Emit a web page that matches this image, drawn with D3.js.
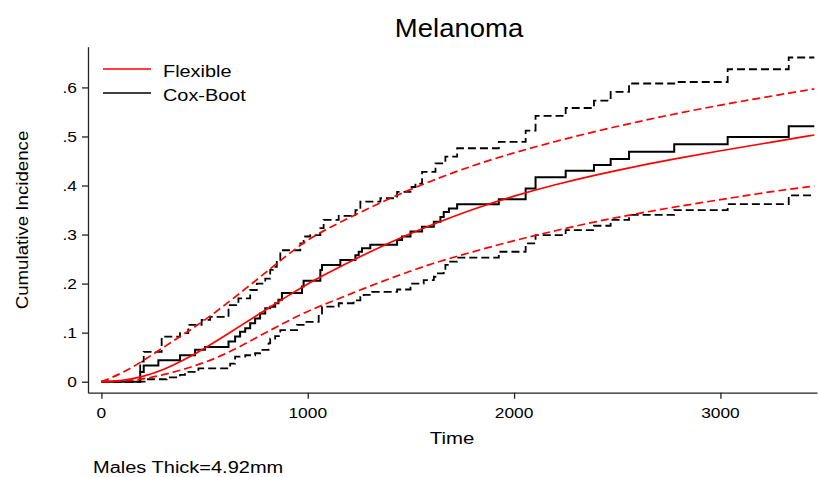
<!DOCTYPE html>
<html><head><meta charset="utf-8">
<script src="https://cdn.jsdelivr.net/npm/d3@7"></script>
<style>
html,body{margin:0;padding:0;background:#fff;}
svg{display:block;}
text{font-family:"Liberation Sans",Arial,Helvetica,sans-serif;fill:#000;}
</style></head>
<body>
<svg id="chart" width="818" height="477"></svg>
<script>
// ---- Data ----
const titleText = "Melanoma";
const xLabel = "Time";
const yLabel = "Cumulative Incidence";
const noteText = "Males Thick=4.92mm";
const legendLabels = ["Flexible", "Cox-Boot"];
const xTicks = [0, 1000, 2000, 3000];
const xTickLabels = ["0", "1000", "2000", "3000"];
const yTicks = [0, 0.1, 0.2, 0.3, 0.4, 0.5, 0.6];
const yTickLabels = ["0", ".1", ".2", ".3", ".4", ".5", ".6"];

// Flexible parametric model (smooth) with confidence limits
const flexTime  = [0,100,200,300,400,500,600,700,800,900,1000,1100,1200,1400,1600,1800,2000,2200,2400,2600,2800,3000,3200,3455];
const flexEst   = [0,0.002,0.010,0.024,0.044,0.068,0.094,0.121,0.148,0.174,0.200,0.222,0.244,0.285,0.320,0.352,0.379,0.402,0.422,0.440,0.456,0.471,0.485,0.503];
const flexUpper = [0,0.017,0.042,0.070,0.097,0.125,0.157,0.190,0.224,0.258,0.290,0.313,0.334,0.375,0.410,0.441,0.467,0.490,0.511,0.530,0.548,0.564,0.579,0.597];
const flexLower = [0,0.001,0.005,0.014,0.025,0.039,0.056,0.078,0.101,0.123,0.144,0.161,0.178,0.211,0.241,0.265,0.288,0.308,0.327,0.343,0.358,0.371,0.385,0.399];

// Cox model with bootstrap confidence limits (step functions)
const coxTime  = [0,188,205,219,276,292,316,381,405,421,454,470,486,502,527,616,624,648,664,672,697,721,745,753,769,794,810,818,842,850,858,867,875,948,964,972,980,1012,1053,1061,1069,1077,1150,1158,1222,1231,1247,1255,1263,1271,1303,1312,1352,1433,1457,1498,1506,1522,1554,1562,1611,1619,1643,1659,1667,1684,1724,1926,2056,2104,2250,2387,2468,2557,2776,3035,3331,3455];
const coxEst   = [0,0.020,0.033,0.033,0.044,0.044,0.044,0.054,0.054,0.054,0.065,0.065,0.065,0.071,0.071,0.082,0.082,0.092,0.092,0.102,0.109,0.119,0.129,0.129,0.139,0.150,0.150,0.153,0.160,0.160,0.167,0.167,0.181,0.181,0.181,0.194,0.206,0.206,0.206,0.228,0.238,0.238,0.238,0.248,0.248,0.258,0.265,0.265,0.272,0.272,0.279,0.279,0.279,0.289,0.296,0.306,0.306,0.306,0.316,0.316,0.326,0.326,0.336,0.346,0.346,0.353,0.362,0.372,0.394,0.417,0.430,0.442,0.454,0.469,0.484,0.499,0.521,0.521];
const coxLower = [0,0,0,0.005,0.005,0.005,0.009,0.014,0.020,0.020,0.020,0.027,0.027,0.027,0.027,0.027,0.037,0.051,0.051,0.051,0.054,0.054,0.058,0.058,0.065,0.065,0.078,0.088,0.093,0.093,0.093,0.105,0.105,0.116,0.116,0.116,0.122,0.122,0.139,0.139,0.153,0.153,0.160,0.160,0.166,0.166,0.166,0.173,0.173,0.177,0.177,0.183,0.183,0.188,0.188,0.194,0.200,0.200,0.200,0.207,0.214,0.221,0.221,0.228,0.238,0.245,0.253,0.265,0.282,0.299,0.309,0.318,0.330,0.340,0.350,0.362,0.380,0.380];
const coxUpper = [0,0.041,0.061,0.061,0.061,0.092,0.092,0.099,0.099,0.116,0.116,0.116,0.126,0.126,0.132,0.156,0.156,0.156,0.170,0.170,0.170,0.187,0.187,0.200,0.200,0.210,0.210,0.228,0.234,0.248,0.248,0.268,0.268,0.268,0.282,0.282,0.296,0.299,0.299,0.313,0.313,0.330,0.338,0.338,0.338,0.350,0.350,0.367,0.367,0.367,0.367,0.367,0.374,0.387,0.387,0.397,0.397,0.404,0.428,0.428,0.428,0.445,0.445,0.445,0.459,0.459,0.476,0.489,0.512,0.542,0.558,0.573,0.591,0.608,0.611,0.637,0.661,0.661];

// ---- Layout ----
const svg = d3.select("#chart");
const x = d3.scaleLinear().domain([-65, 3468]).range([88, 817]);
const y = d3.scaleLinear().domain([-0.0224, 0.683]).range([392.7, 46.7]);
const RED = "#ff0000";

// text helper with horizontal stretch (reference glyphs are wide)
function label(txt, px, py, size, anchor, sx, rotate) {
  const g = svg.append("g").attr("transform",
    `translate(${px},${py})` + (rotate ? ` rotate(${rotate})` : "") + ` scale(${sx},1)`);
  g.append("text").attr("x", 0).attr("y", 0).attr("font-size", size)
    .attr("text-anchor", anchor).text(txt);
  return g;
}

// Axes
const xAxis = d3.axisBottom(x).tickValues(xTicks).tickFormat((d, i) => xTickLabels[i])
  .tickSizeInner(6).tickSizeOuter(0).tickPadding(4);
const yAxis = d3.axisLeft(y).tickValues(yTicks).tickFormat((d, i) => yTickLabels[i])
  .tickSizeInner(6).tickSizeOuter(0).tickPadding(4);

const gx = svg.append("g").attr("transform", "translate(0,392.7)").call(xAxis);
const gy = svg.append("g").attr("transform", "translate(88,0)").call(yAxis);
[gx, gy].forEach(g => {
  g.select(".domain").attr("stroke", "#222").attr("stroke-width", 1.3);
  g.selectAll(".tick line").attr("stroke", "#222").attr("stroke-width", 1.3);
  g.selectAll(".tick text").remove();
});
// tick labels (stretched)
xTicks.forEach((t, i) => label(xTickLabels[i], x(t), 418, 15.5, "middle", 1.12));
yTicks.forEach((t, i) => label(yTickLabels[i], 77, y(t) + 5.5, 15.5, "end", 1.12));

// Lines
const lineSmooth = (vals, times) => d3.line().x((d, i) => x(times[i])).y(d => y(d)).curve(d3.curveBasis)(vals);
const lineStep = (vals, times) => d3.line().x((d, i) => x(times[i])).y(d => y(d)).curve(d3.curveStepAfter)(vals);

const plot = svg.append("g").attr("fill", "none").attr("stroke-linejoin", "miter");
plot.append("path").attr("d", lineStep(coxUpper, coxTime)).attr("stroke", "#000").attr("stroke-width", 1.8).attr("stroke-dasharray", "8,4");
plot.append("path").attr("d", lineStep(coxLower, coxTime)).attr("stroke", "#000").attr("stroke-width", 1.8).attr("stroke-dasharray", "8,4");
plot.append("path").attr("d", lineStep(coxEst, coxTime)).attr("stroke", "#000").attr("stroke-width", 2);
plot.append("path").attr("d", lineSmooth(flexUpper, flexTime)).attr("stroke", RED).attr("stroke-width", 1.7).attr("stroke-dasharray", "8,4");
plot.append("path").attr("d", lineSmooth(flexLower, flexTime)).attr("stroke", RED).attr("stroke-width", 1.7).attr("stroke-dasharray", "8,4");
plot.append("path").attr("d", lineSmooth(flexEst, flexTime)).attr("stroke", RED).attr("stroke-width", 1.7);

// Legend
const legendColors = [RED, "#000"];
legendLabels.forEach((lab, i) => {
  const ly = 69 + i * 24;
  svg.append("line").attr("x1", 103).attr("x2", 151).attr("y1", ly).attr("y2", ly)
    .attr("stroke", legendColors[i]).attr("stroke-width", 1.7);
  label(lab, 163, ly + 7.5, 16.3, "start", 1.22);
});

// Titles
label(titleText, 459, 37, 25, "middle", 1.1);
label(xLabel, 452, 444, 17, "middle", 1.2);
label(yLabel, 28, 220, 17, "middle", 1.1, -90);
label(noteText, 93, 473, 16, "start", 1.25);
</script>
</body></html>
